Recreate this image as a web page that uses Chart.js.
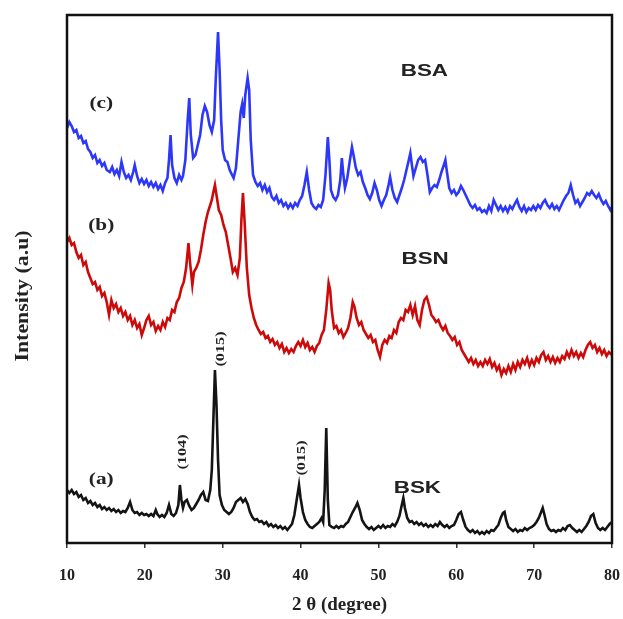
<!DOCTYPE html>
<html>
<head>
<meta charset="utf-8">
<script src="https://cdn.jsdelivr.net/npm/chart.js@4.4.1/dist/chart.umd.min.js"></script>
<style>
  html, body { margin: 0; padding: 0; background: #fff; }
  #wrap { width: 623px; height: 619px; }
</style>
</head>
<body>
<div id="wrap"><canvas id="xrd"></canvas></div>
<script>
// 2 theta tick labels
const xTicks = [10, 20, 30, 40, 50, 60, 70, 80];

// BSA (c) - [2theta, intensity a.u.]
const bsaPoints = [
  [10.0,415],[10.3,421],[10.6,417],[10.9,411],[11.2,413],[11.5,405],[11.8,407],[12.1,400],[12.4,402],[12.7,394],
  [13.0,391],[13.3,385],[13.6,388],[13.9,380],[14.2,383],[14.5,377],[14.8,380],[15.1,373],[15.5,371],[15.8,376],
  [16.1,369],[16.4,373],[16.7,367],[17.0,381],[17.3,371],[17.6,365],[17.9,368],[18.2,363],[18.5,371],[18.7,378],
  [19.0,367],[19.3,360],[19.6,364],[19.9,359],[20.2,363],[20.5,357],[20.8,361],[21.1,356],[21.4,360],[21.7,354],
  [22.0,358],[22.3,352],[22.6,360],[22.9,365],[23.1,383],[23.3,408],[23.5,378],[23.8,365],[24.1,360],[24.4,368],
  [24.7,363],[24.9,367],[25.2,383],[25.5,423],[25.7,445],[25.9,408],[26.2,385],[26.5,388],[26.8,398],[27.1,408],
  [27.4,428],[27.7,437],[28.0,431],[28.3,418],[28.6,411],[28.9,423],[29.1,463],[29.4,511],[29.6,473],[29.8,423],
  [30.0,393],[30.3,383],[30.6,381],[30.9,373],[31.2,368],[31.4,365],[31.7,375],[32.0,403],[32.3,431],[32.5,439],
  [32.7,425],[32.9,448],[33.2,465],[33.4,453],[33.6,403],[33.9,368],[34.2,361],[34.5,357],[34.8,360],[35.1,353],
  [35.4,358],[35.7,351],[36.0,355],[36.3,346],[36.6,343],[36.9,347],[37.2,340],[37.5,343],[37.8,337],[38.1,340],
  [38.4,335],[38.7,339],[39.0,335],[39.3,340],[39.6,337],[39.9,343],[40.2,347],[40.5,358],[40.8,371],[41.1,353],
  [41.4,340],[41.7,336],[42.0,334],[42.3,338],[42.6,336],[42.9,343],[43.2,368],[43.5,406],[43.7,383],[43.9,353],
  [44.2,346],[44.5,343],[44.8,348],[45.1,363],[45.3,385],[45.5,368],[45.7,355],[46.0,365],[46.3,381],[46.6,396],
  [46.8,388],[47.1,375],[47.4,368],[47.7,371],[48.0,361],[48.3,355],[48.6,348],[48.9,344],[49.2,350],[49.5,360],
  [49.8,353],[50.1,343],[50.4,337],[50.7,343],[51.0,348],[51.3,358],[51.5,366],[51.8,353],[52.1,345],[52.4,341],
  [52.7,348],[53.0,355],[53.3,363],[53.6,373],[53.9,383],[54.1,390],[54.3,378],[54.5,367],[54.8,375],[55.1,383],
  [55.4,386],[55.7,381],[56.0,383],[56.3,368],[56.6,351],[56.9,355],[57.2,358],[57.5,356],[57.8,363],[58.1,371],
  [58.4,378],[58.6,383],[58.8,371],[59.1,355],[59.4,350],[59.7,353],[60.0,348],[60.3,351],[60.6,357],[60.9,353],
  [61.2,348],[61.5,343],[61.8,338],[62.1,335],[62.4,338],[62.7,333],[63.0,335],[63.3,331],[63.6,333],[63.9,330],
  [64.2,337],[64.5,332],[64.8,343],[65.1,338],[65.4,333],[65.7,337],[66.0,332],[66.3,336],[66.6,331],[66.9,337],
  [67.2,334],[67.5,339],[67.8,343],[68.1,336],[68.4,332],[68.7,337],[69.0,331],[69.3,335],[69.6,333],[69.9,337],
  [70.2,333],[70.5,338],[70.8,335],[71.1,340],[71.4,343],[71.7,338],[72.0,335],[72.3,339],[72.6,334],[72.9,337],
  [73.2,333],[73.5,338],[73.8,343],[74.1,347],[74.4,350],[74.7,358],[75.0,348],[75.3,340],[75.6,343],[75.9,337],
  [76.2,341],[76.5,345],[76.8,350],[77.1,348],[77.4,352],[77.7,348],[78.0,345],[78.3,349],[78.6,343],[78.9,339],
  [79.2,342],[79.5,337],[79.8,333],[80.0,336]
];

// BSN (b)
const bsnPoints = [
  [10.0,301],[10.3,305],[10.6,298],[10.9,300],[11.2,291],[11.5,285],[11.8,288],[12.1,278],[12.4,281],[12.7,271],
  [13.0,265],[13.3,259],[13.6,261],[13.9,253],[14.2,256],[14.5,247],[14.8,250],[15.1,241],[15.4,228],[15.7,243],
  [16.0,235],[16.3,239],[16.6,231],[16.9,235],[17.2,227],[17.5,231],[17.8,223],[18.1,227],[18.4,218],[18.7,223],
  [19.0,215],[19.3,219],[19.6,208],[19.9,215],[20.2,223],[20.5,227],[20.8,218],[21.1,221],[21.4,212],[21.7,217],
  [22.0,213],[22.3,221],[22.6,216],[22.9,225],[23.2,223],[23.5,233],[23.8,231],[24.1,241],[24.4,245],[24.7,255],
  [25.0,261],[25.3,275],[25.6,300],[25.8,281],[26.1,258],[26.3,271],[26.6,275],[26.9,281],[27.2,293],[27.5,308],
  [27.8,321],[28.1,331],[28.4,338],[28.6,343],[28.8,351],[29.0,358],[29.2,348],[29.5,333],[29.8,328],[30.1,318],
  [30.4,311],[30.7,298],[31.0,285],[31.3,271],[31.6,275],[31.9,268],[32.2,285],[32.4,323],[32.6,350],[32.8,323],
  [33.1,275],[33.4,248],[33.7,235],[34.0,225],[34.3,218],[34.6,213],[34.9,209],[35.2,211],[35.5,205],[35.8,207],
  [36.1,201],[36.4,204],[36.7,198],[37.0,201],[37.3,195],[37.6,199],[37.9,191],[38.2,195],[38.5,190],[38.8,194],
  [39.1,191],[39.4,197],[39.7,201],[40.0,197],[40.3,203],[40.6,196],[40.9,200],[41.2,193],[41.5,196],[41.8,191],
  [42.1,197],[42.4,200],[42.7,208],[43.0,213],[43.3,233],[43.6,260],[43.8,253],[44.0,233],[44.3,215],[44.6,217],
  [44.9,210],[45.2,213],[45.5,206],[45.8,210],[46.1,215],[46.4,225],[46.7,241],[46.9,237],[47.2,225],[47.5,218],
  [47.8,221],[48.1,213],[48.4,209],[48.7,205],[49.0,208],[49.3,201],[49.6,203],[49.9,193],[50.2,186],[50.5,198],
  [50.8,203],[51.1,200],[51.4,207],[51.7,205],[52.0,213],[52.3,210],[52.6,221],[52.9,225],[53.2,223],[53.5,233],
  [53.8,231],[54.1,238],[54.4,228],[54.7,237],[55.0,223],[55.3,218],[55.6,233],[55.9,243],[56.2,246],[56.5,238],
  [56.8,228],[57.1,225],[57.4,221],[57.7,223],[58.0,217],[58.3,213],[58.6,217],[58.9,210],[59.2,207],[59.5,203],
  [59.8,206],[60.1,198],[60.4,201],[60.7,193],[61.0,189],[61.3,185],[61.6,181],[61.9,185],[62.2,179],[62.5,183],
  [62.8,177],[63.1,181],[63.4,177],[63.7,183],[64.0,179],[64.3,184],[64.6,176],[64.9,180],[65.2,173],[65.5,177],
  [65.8,168],[66.1,174],[66.4,170],[66.7,177],[67.0,171],[67.3,179],[67.6,173],[67.9,181],[68.2,176],[68.5,183],
  [68.8,179],[69.1,185],[69.4,177],[69.7,183],[70.0,178],[70.3,185],[70.6,181],[70.9,188],[71.2,191],[71.5,183],
  [71.8,187],[72.1,181],[72.4,186],[72.7,180],[73.0,185],[73.3,181],[73.6,187],[73.9,184],[74.2,191],[74.5,186],
  [74.8,193],[75.1,187],[75.4,191],[75.7,185],[76.0,190],[76.3,186],[76.6,193],[76.9,198],[77.2,201],[77.5,195],
  [77.8,198],[78.1,191],[78.4,195],[78.7,189],[79.0,193],[79.3,187],[79.6,191],[80.0,188]
];

// BSK (a)
const bskPoints = [
  [10.0,53],[10.3,50],[10.6,53],[10.9,49],[11.2,51],[11.5,46],[11.8,48],[12.1,43],[12.4,45],[12.7,40],
  [13.0,42],[13.3,38],[13.6,40],[13.9,36],[14.2,38],[14.5,34],[14.8,36],[15.1,33],[15.4,35],[15.7,32],
  [16.0,34],[16.3,31],[16.6,33],[16.9,30],[17.2,32],[17.5,31],[17.8,35],[18.1,41],[18.4,33],[18.7,30],
  [19.0,31],[19.3,28],[19.6,30],[19.9,28],[20.2,29],[20.5,27],[20.8,29],[21.1,27],[21.4,33],[21.6,29],
  [21.9,26],[22.2,28],[22.5,26],[22.8,30],[23.1,38],[23.4,29],[23.7,27],[24.0,30],[24.3,38],[24.5,58],
  [24.7,43],[24.9,35],[25.1,41],[25.4,43],[25.7,37],[26.0,33],[26.3,35],[26.6,39],[26.9,43],[27.2,48],
  [27.5,51],[27.8,43],[28.1,42],[28.4,53],[28.6,73],[28.8,123],[29.0,173],[29.2,138],[29.4,83],[29.6,48],
  [29.9,38],[30.2,33],[30.5,31],[30.8,29],[31.1,31],[31.4,35],[31.7,41],[32.0,43],[32.3,45],[32.6,41],
  [32.9,44],[33.2,39],[33.5,31],[33.8,26],[34.1,23],[34.4,24],[34.7,21],[35.0,22],[35.3,19],[35.6,21],
  [35.9,17],[36.2,19],[36.5,16],[36.8,18],[37.1,15],[37.4,17],[37.7,14],[38.0,16],[38.3,13],[38.6,16],
  [38.9,19],[39.2,28],[39.5,43],[39.8,58],[40.0,45],[40.3,31],[40.6,23],[40.9,19],[41.2,16],[41.5,15],
  [41.8,17],[42.1,19],[42.4,21],[42.7,25],[42.9,21],[43.1,53],[43.3,115],[43.5,43],[43.7,18],[44.0,16],
  [44.3,15],[44.6,17],[44.9,15],[45.2,17],[45.5,16],[45.8,19],[46.1,21],[46.4,26],[46.7,31],[47.0,35],
  [47.3,40],[47.6,33],[47.9,23],[48.2,19],[48.5,16],[48.8,14],[49.1,16],[49.4,13],[49.7,15],[50.0,17],
  [50.3,15],[50.6,18],[50.9,15],[51.2,17],[51.5,16],[51.8,19],[52.1,17],[52.4,21],[52.7,27],[53.0,38],
  [53.2,45],[53.4,35],[53.7,25],[54.0,21],[54.3,22],[54.6,19],[54.9,21],[55.2,18],[55.5,20],[55.8,17],
  [56.1,19],[56.4,16],[56.7,18],[57.0,16],[57.3,19],[57.6,17],[57.9,21],[58.2,18],[58.5,16],[58.8,18],
  [59.1,15],[59.4,17],[59.7,18],[60.0,23],[60.3,29],[60.6,31],[60.9,23],[61.2,16],[61.5,13],[61.8,11],
  [62.1,13],[62.4,10],[62.7,12],[63.0,9],[63.3,11],[63.6,9],[63.9,12],[64.2,10],[64.5,13],[64.8,12],
  [65.1,15],[65.4,18],[65.7,25],[66.0,30],[66.2,31],[66.4,23],[66.7,16],[67.0,14],[67.3,12],[67.6,14],
  [67.9,11],[68.2,13],[68.5,12],[68.8,15],[69.1,13],[69.4,15],[69.7,16],[70.0,18],[70.3,21],[70.6,25],
  [70.9,31],[71.1,35],[71.3,29],[71.6,19],[71.9,14],[72.2,12],[72.5,13],[72.8,11],[73.1,13],[73.4,12],
  [73.7,15],[74.0,13],[74.3,17],[74.6,18],[74.9,15],[75.2,13],[75.5,11],[75.8,13],[76.1,11],[76.4,14],
  [76.7,17],[77.0,21],[77.3,27],[77.6,29],[77.9,20],[78.2,15],[78.5,13],[78.8,15],[79.1,13],[79.4,16],
  [79.7,19],[80.0,21]
];

const seriesNames = ['BSA', 'BSN', 'BSK'];
const seriesLetters = ['(c)', '(b)', '(a)'];
const peakLabels = ['(104)', '(015)', '(015)'];
const yTitle = 'Intensity (a.u)';

function toXY(points) {
  return points.map(p => ({ x: p[0], y: p[1] }));
}

const serif = '"Liberation Serif", "Times New Roman", serif';
const sans = '"Liberation Sans", Arial, sans-serif';

// frame, y title, sample letters, names and Miller indices
const annotations = {
  id: 'annotations',
  afterDraw(chart) {
    const ctx = chart.ctx;
    const a = chart.chartArea;
    const xs = chart.scales.x, ys = chart.scales.y;
    ctx.save();
    ctx.strokeStyle = '#111';
    ctx.lineWidth = 2.5;
    ctx.strokeRect(a.left, a.top, a.right - a.left, a.bottom - a.top);

    ctx.fillStyle = '#222';
    ctx.textAlign = 'center';
    ctx.textBaseline = 'middle';

    // y axis title, sits a bit below the middle in the original
    ctx.save();
    ctx.font = 'bold 19px ' + serif;
    ctx.translate(23, 296);
    ctx.rotate(-Math.PI / 2);
    ctx.scale(1.15, 1);
    ctx.fillText(yTitle, 0, 0);
    ctx.restore();

    // (c) (b) (a)
    ctx.font = 'bold 17px ' + serif;
    const letterPos = [[14.4, 439], [14.4, 317], [14.4, 63]];
    seriesLetters.forEach((t, i) => {
      ctx.save();
      ctx.translate(xs.getPixelForValue(letterPos[i][0]), ys.getPixelForValue(letterPos[i][1]));
      ctx.scale(1.25, 1);
      ctx.fillText(t, 0, 0);
      ctx.restore();
    });

    // sample names
    ctx.font = 'bold 16px ' + sans;
    const namePos = [[55.9, 471], [56.0, 283], [55.0, 54]];
    seriesNames.forEach((t, i) => {
      ctx.save();
      ctx.translate(xs.getPixelForValue(namePos[i][0]), ys.getPixelForValue(namePos[i][1]));
      ctx.scale(1.4, 1);
      ctx.fillText(t, 0, 0);
      ctx.restore();
    });

    // rotated reflection labels
    ctx.font = 'bold 13px ' + serif;
    const peakPos = [[24.8, 91], [29.75, 194], [40.2, 85]];
    peakLabels.forEach((t, i) => {
      ctx.save();
      ctx.translate(xs.getPixelForValue(peakPos[i][0]), ys.getPixelForValue(peakPos[i][1]));
      ctx.rotate(-Math.PI / 2);
      ctx.scale(1.25, 1);
      ctx.fillText(t, 0, 0);
      ctx.restore();
    });
    ctx.restore();
  }
};

const lineStyle = (color) => ({
  borderColor: color,
  backgroundColor: color,
  borderWidth: 2.6,
  pointRadius: 0,
  tension: 0,
  fill: false
});

new Chart(document.getElementById('xrd'), {
  type: 'line',
  data: {
    datasets: [
      { label: seriesNames[0], data: toXY(bsaPoints), ...lineStyle('rgb(45,55,250)') },
      { label: seriesNames[1], data: toXY(bsnPoints), ...lineStyle('rgb(205,10,10)') },
      { label: seriesNames[2], data: toXY(bskPoints), ...lineStyle('rgb(20,20,20)') }
    ]
  },
  options: {
    responsive: true,
    maintainAspectRatio: false,
    animation: false,
    layout: { padding: { top: 15, right: 11, left: 0, bottom: 0 } },
    plugins: { legend: { display: false }, tooltip: { enabled: false } },
    scales: {
      x: {
        type: 'linear',
        min: 10,
        max: 80,
        afterBuildTicks(scale) { scale.ticks = xTicks.map(v => ({ value: v })); },
        afterFit(scale) {
          scale.height = 76;
          scale.paddingLeft = 0;
          scale.paddingRight = 0;
        },
        border: { display: false },
        grid: { drawOnChartArea: false, drawTicks: true, tickLength: 5, color: '#333', lineWidth: 1.5 },
        ticks: { padding: 18, color: '#222', font: { family: serif, size: 16, weight: 'bold' } },
        title: {
          display: true,
          text: '2 θ (degree)',
          color: '#222',
          padding: { top: 0, bottom: 3 },
          font: { family: serif, size: 19, weight: 'bold' }
        }
      },
      y: {
        min: 0,
        max: 528,
        afterFit(scale) { scale.width = 67; },
        border: { display: false },
        grid: { display: false },
        ticks: { display: false },
        title: { display: false }
      }
    }
  },
  plugins: [annotations]
});
</script>
</body>
</html>
